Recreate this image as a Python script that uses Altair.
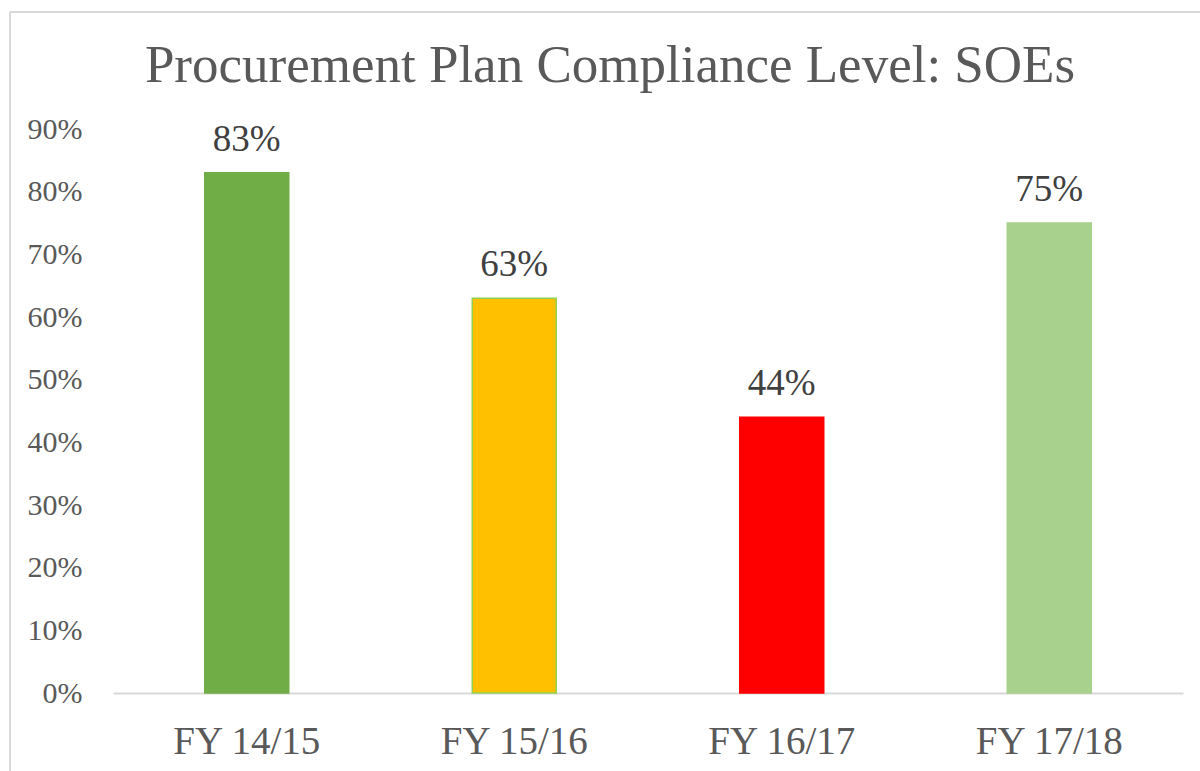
import altair as alt
import pandas as pd

categories = ["FY 14/15", "FY 15/16", "FY 16/17", "FY 17/18"]
values = [0.83, 0.63, 0.44, 0.75]
labels = ["83%", "63%", "44%", "75%"]

fill_colors = ["#70AD47", "#FFC000", "#FF0000", "#A9D18E"]
edge_colors = ["#70AD47", "#92D050", "#FF0000", "#A9D18E"]

df = pd.DataFrame({"cat": categories, "val": values, "lab": labels})

FONT = "Liberation Serif"

x = alt.X("cat:N", sort=categories, title=None,
          scale=alt.Scale(paddingInner=0, paddingOuter=0),
          axis=alt.Axis(labelAngle=0, labelFont=FONT, labelFontSize=39,
                        labelColor="#595959", ticks=False, domainColor="#D9D9D9",
                        domainWidth=2, labelPadding=29, labelBaseline="top"))
y = alt.Y("val:Q", title=None,
          scale=alt.Scale(domain=[0, 0.9], nice=False),
          axis=alt.Axis(format=".0%", values=[i / 10 for i in range(10)],
                        labelFont=FONT, labelFontSize=30, labelColor="#595959",
                        ticks=False, domain=False, grid=False, labelPadding=31))

bars = alt.Chart(df).mark_bar(width=alt.RelativeBandSize(0.314), strokeWidth=1.5).encode(
    x=x, y=y,
    color=alt.Color("cat:N", scale=alt.Scale(domain=categories, range=fill_colors), legend=None),
    stroke=alt.Stroke("cat:N", scale=alt.Scale(domain=categories, range=edge_colors), legend=None),
)

text = alt.Chart(df).mark_text(font=FONT, fontSize=37, color="#404040",
                               baseline="alphabetic", dy=-22).encode(
    x=alt.X("cat:N", sort=categories), y="val:Q", text="lab:N")

border_v = alt.Chart(df).mark_rule(color="#D9D9D9", strokeWidth=1.5).encode(
    x=alt.value(-103), y=alt.value(-117), y2=alt.value(700))
border_h = alt.Chart(df).mark_rule(color="#D9D9D9", strokeWidth=1.5).encode(
    x=alt.value(-103), x2=alt.value(1200), y=alt.value(-117))

chart = alt.layer(border_v, border_h, bars, text).properties(
    width=1070, height=564,
    background="white",
    title=alt.TitleParams("Procurement Plan Compliance Level: SOEs", font=FONT,
                          fontSize=53, fontWeight="normal", color="#595959",
                          anchor="middle", baseline="alphabetic",
                          dx=-38, dy=124, offset=0),
    autosize=alt.AutoSizeParams(type="none"),
    padding={"left": 113, "right": 17, "top": 129, "bottom": 78},
).configure_view(strokeWidth=0, stroke="transparent")

chart.save("out.html", embed_options={"renderer": "svg", "actions": False})
